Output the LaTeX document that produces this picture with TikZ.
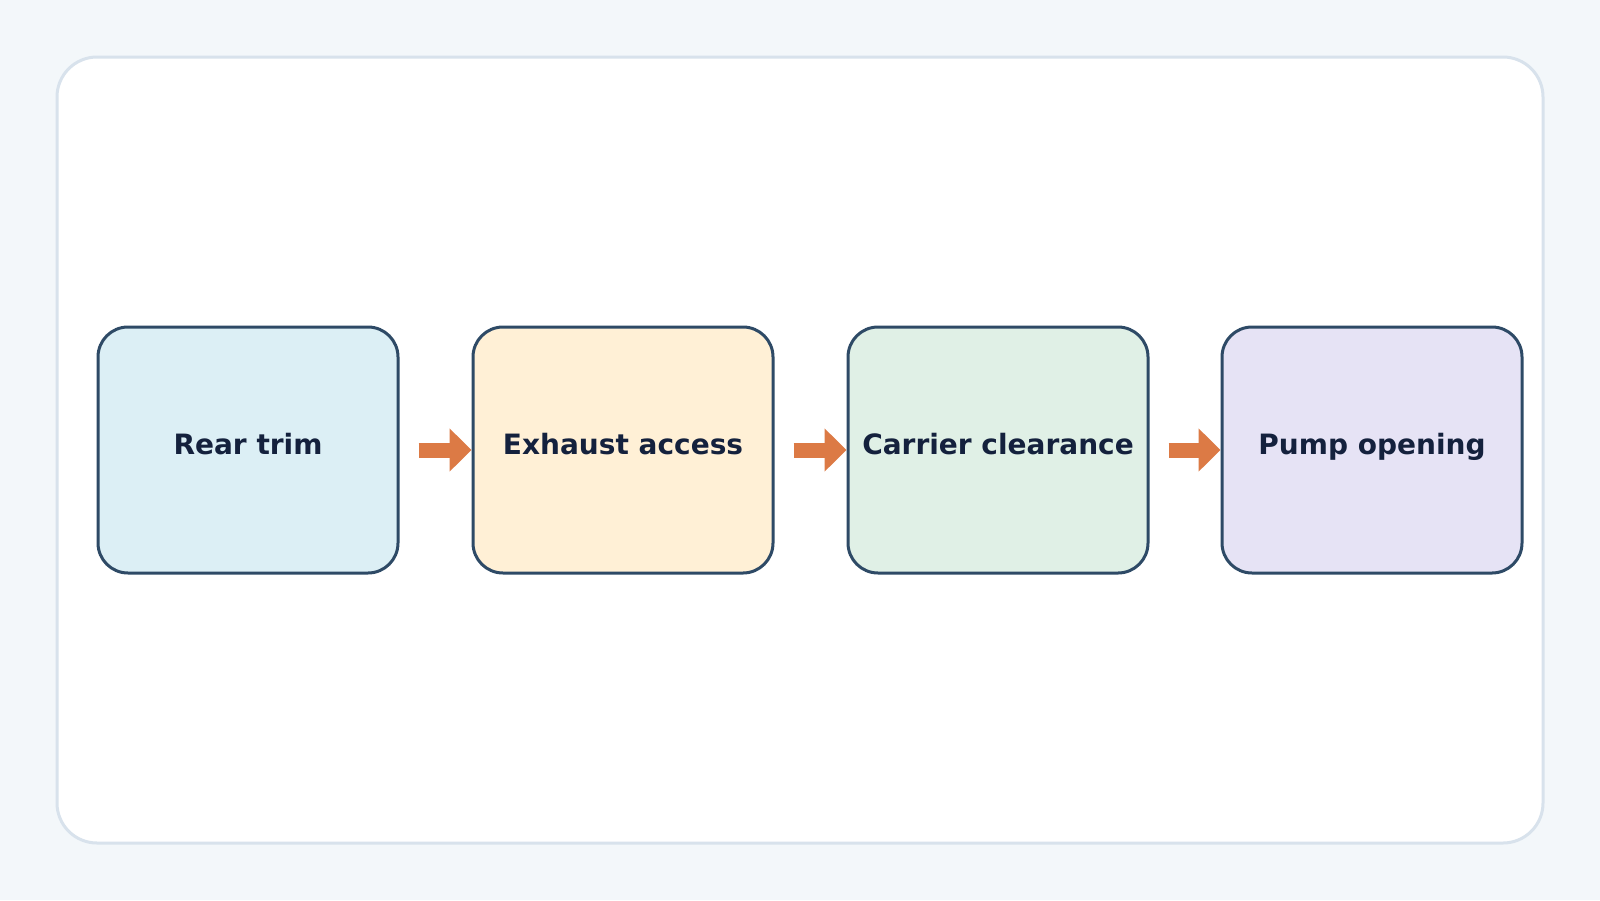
\documentclass[tikz,border=0pt]{standalone}
\usepackage{fontspec}
\setmainfont{DejaVu Sans}
\usetikzlibrary{arrows.meta}
\definecolor{bg}{HTML}{F3F7FA}
\definecolor{frame}{HTML}{D8E2EC}
\definecolor{edge}{HTML}{2E4A66}
\definecolor{txt}{HTML}{14213D}
\definecolor{arr}{HTML}{DC7A45}
\begin{document}
\begin{tikzpicture}[x=1pt,y=-1pt,
  box/.style={draw=edge,line width=3pt,rounded corners=30pt,minimum width=300pt,minimum height=246pt,font=\fontsize{28}{32}\selectfont\bfseries,text=txt,inner sep=0pt,text height=0.92em,text depth=0.08em},
  flow/.style={draw=arr,line width=15pt,-{Triangle[length=22pt,width=42pt]},shorten <=19pt}]
\useasboundingbox (0,0) rectangle (1600,900);
\fill[bg] (0,0) rectangle (1600,900);
\draw[frame,fill=white,line width=3pt,rounded corners=40pt] (57,57) rectangle (1543,843);
\node[box,fill={rgb,255:red,220;green,239;blue,245}] (a) at (248,450) {Rear trim};
\node[box,fill={rgb,255:red,255;green,240;blue,214}] (b) at (623,450) {Exhaust access};
\node[box,fill={rgb,255:red,224;green,240;blue,230}] (c) at (998,450) {Carrier clearance};
\node[box,fill={rgb,255:red,230;green,227;blue,245}] (d) at (1372,450) {Pump opening};
\draw[flow] (a.east) -- (b.west);
\draw[flow] (b.east) -- (c.west);
\draw[flow] (c.east) -- (d.west);
\end{tikzpicture}
\end{document}
